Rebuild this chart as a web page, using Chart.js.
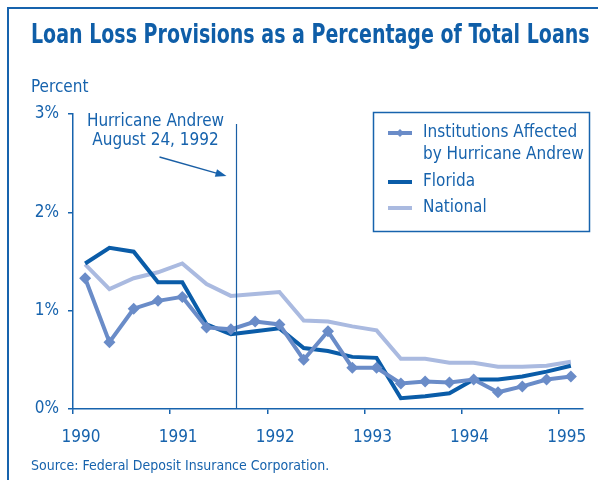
<!DOCTYPE html>
<html>
<head>
<meta charset="utf-8">
<script src="https://cdn.jsdelivr.net/npm/chart.js@4.4.1/dist/chart.umd.min.js"></script>
<style>
    html, body { margin: 0; padding: 0; background: #fff; }
    body { width: 598px; height: 480px; position: relative; overflow: hidden; font-family: 'Liberation Sans Narrow', 'DejaVu Sans Condensed', 'Roboto Condensed', 'Liberation Sans', sans-serif; color: #1763ad; }
    #frame { position: absolute; left: 7px; top: 7px; width: 620px; height: 500px; border-left: 2px solid #1763ad; border-top: 2px solid #1763ad; }
    #title { position: absolute; left: 31px; top: 18px; font-size: 27px; font-weight: bold; color: #0f5ea8; white-space: nowrap; transform-origin: 0 0; }
    #unit { position: absolute; left: 31px; top: 76px; font-size: 17px; }
    #source { position: absolute; left: 31px; top: 457px; font-size: 14px; }
    #wrap { position: absolute; left: 0; top: 0; width: 598px; height: 480px; }
</style>
</head>
<body>
<div id="frame"></div>
<div id="wrap"><canvas id="chart"></canvas></div>
<div id="title">Loan Loss Provisions as a Percentage of Total Loans</div>
<div id="unit">Percent</div>
<div id="source">Source: Federal Deposit Insurance Corporation.</div>
<script>
// 분기 중앙값 (연도 단위)
const quarters = [1990.125, 1990.375, 1990.625, 1990.875, 1991.125, 1991.375, 1991.625, 1991.875,
                  1992.125, 1992.375, 1992.625, 1992.875, 1993.125, 1993.375, 1993.625, 1993.875,
                  1994.125, 1994.375, 1994.625, 1994.875, 1995.125];
const institutions = [1.33, 0.68, 1.02, 1.10, 1.14, 0.83, 0.81, 0.89, 0.86, 0.50, 0.79, 0.42, 0.42, 0.26, 0.28, 0.27, 0.30, 0.17, 0.23, 0.30, 0.33];
const florida = [1.48, 1.64, 1.60, 1.29, 1.29, 0.86, 0.76, 0.79, 0.82, 0.62, 0.59, 0.53, 0.52, 0.11, 0.13, 0.16, 0.30, 0.30, 0.33, 0.38, 0.44];
const national = [1.47, 1.22, 1.33, 1.39, 1.48, 1.27, 1.15, 1.17, 1.19, 0.90, 0.89, 0.84, 0.80, 0.51, 0.51, 0.47, 0.47, 0.43, 0.43, 0.44, 0.48];
const yearTicks = [1990, 1991, 1992, 1993, 1994, 1995];
const percentTicks = [0, 1, 2, 3];
const seriesNames = ['Institutions Affected|by Hurricane Andrew', 'Florida', 'National'];
const hurricaneAt = 1991.68;
const hurricaneText = ['Hurricane Andrew', 'August 24, 1992'];

const FONT = "'Liberation Sans Narrow', 'DejaVu Sans Condensed', 'Roboto Condensed', 'Liberation Sans', sans-serif";
const TEXT = '#1763ad';
const colors = ['#6a8cc8', '#0a5ca8', '#aabae0'];

// 제목 폭 맞추기
const titleEl = document.getElementById('title');
titleEl.style.transform = 'scaleX(' + (559 / titleEl.scrollWidth) + ')';

const toPoints = vals => vals.map((v, i) => ({ x: quarters[i], y: v }));

// 허리케인 표시선 + 범례
const overlay = {
    id: 'overlay',
    afterDraw(chart) {
        const { ctx, scales: { x, y }, chartArea } = chart;
        const lx = Math.round(x.getPixelForValue(hurricaneAt)) + 0.5;
        ctx.save();
        ctx.strokeStyle = '#1a5fa5';
        ctx.lineWidth = 1.2;
        ctx.beginPath();
        ctx.moveTo(lx, chartArea.top + 10);
        ctx.lineTo(lx, chartArea.bottom);
        ctx.stroke();

        ctx.fillStyle = TEXT;
        ctx.font = '17px ' + FONT;
        ctx.textAlign = 'center';
        ctx.textBaseline = 'middle';
        ctx.fillText(hurricaneText[0], lx - 81, 122);
        ctx.fillText(hurricaneText[1], lx - 81, 141);

        // 화살표
        const tx = lx - 10, ty = 176, sx = lx - 77, sy = 157;
        const ang = Math.atan2(ty - sy, tx - sx);
        ctx.lineWidth = 1.3;
        ctx.beginPath();
        ctx.moveTo(sx, sy);
        ctx.lineTo(tx - 6 * Math.cos(ang), ty - 6 * Math.sin(ang));
        ctx.stroke();
        ctx.beginPath();
        ctx.moveTo(tx, ty);
        ctx.lineTo(tx - 11 * Math.cos(ang) + 4 * Math.sin(ang), ty - 11 * Math.sin(ang) - 4 * Math.cos(ang));
        ctx.lineTo(tx - 11 * Math.cos(ang) - 4 * Math.sin(ang), ty - 11 * Math.sin(ang) + 4 * Math.cos(ang));
        ctx.closePath();
        ctx.fill();

        // 범례
        ctx.fillStyle = '#fff';
        ctx.fillRect(373, 112, 217, 120);
        ctx.strokeStyle = TEXT;
        ctx.lineWidth = 1.5;
        ctx.strokeRect(373.5, 112.5, 216, 119);
        ctx.textAlign = 'left';
        const rows = [[133, 155], [182], [208]];
        chart.data.datasets.forEach((ds, i) => {
            const yy = rows[i][0];
            ctx.strokeStyle = ds.borderColor;
            ctx.lineWidth = 4;
            ctx.beginPath();
            ctx.moveTo(388, yy);
            ctx.lineTo(412, yy);
            ctx.stroke();
            if (i === 0) {
                ctx.fillStyle = ds.borderColor;
                ctx.beginPath();
                ctx.moveTo(400, yy - 4); ctx.lineTo(404, yy); ctx.lineTo(400, yy + 4); ctx.lineTo(396, yy);
                ctx.closePath();
                ctx.fill();
            }
            ctx.fillStyle = TEXT;
            seriesNames[i].split('|').forEach((t, k) => ctx.fillText(t, 423, rows[i][k]));
        });
        ctx.restore();
    }
};

new Chart(document.getElementById('chart'), {
    type: 'line',
    data: {
        datasets: [
            {
                label: seriesNames[0],
                data: toPoints(institutions),
                borderColor: colors[0],
                backgroundColor: colors[0],
                borderWidth: 4,
                pointStyle: 'rectRot',
                pointRadius: 6,
                pointBorderWidth: 0,
                tension: 0
            },
            {
                label: seriesNames[1],
                data: toPoints(florida),
                borderColor: colors[1],
                borderWidth: 4,
                pointRadius: 0,
                tension: 0
            },
            {
                label: seriesNames[2],
                data: toPoints(national),
                borderColor: colors[2],
                borderWidth: 4,
                pointRadius: 0,
                tension: 0
            }
        ]
    },
    options: {
        responsive: true,
        maintainAspectRatio: false,
        animation: false,
        layout: { padding: { left: 0, top: 114, right: 15, bottom: 0 } },
        scales: {
            x: {
                type: 'linear',
                min: 1990,
                max: 1995.25,
                afterBuildTicks: s => { s.ticks = yearTicks.map(v => ({ value: v })); },
                afterFit: s => { s.height = 71; },
                border: { display: true, color: TEXT, width: 1.5 },
                grid: { display: true, drawOnChartArea: false, drawTicks: true, tickLength: 5, color: TEXT, lineWidth: 1.5 },
                ticks: { color: TEXT, font: { family: FONT, size: 17 }, padding: 13, labelOffset: 8, maxRotation: 0, callback: v => String(v) }
            },
            y: {
                min: 0,
                max: 3,
                afterBuildTicks: s => { s.ticks = percentTicks.map(v => ({ value: v })); },
                afterFit: s => { s.width = 73; },
                border: { display: true, color: TEXT, width: 1.5 },
                grid: { display: true, drawOnChartArea: false, drawTicks: true, tickLength: 5, color: TEXT, lineWidth: 1.5 },
                ticks: { color: TEXT, font: { family: FONT, size: 17 }, padding: 9, callback: v => v + '%' }
            }
        },
        plugins: {
            legend: { display: false },
            tooltip: { enabled: false }
        }
    },
    plugins: [overlay]
});
</script>
</body>
</html>
